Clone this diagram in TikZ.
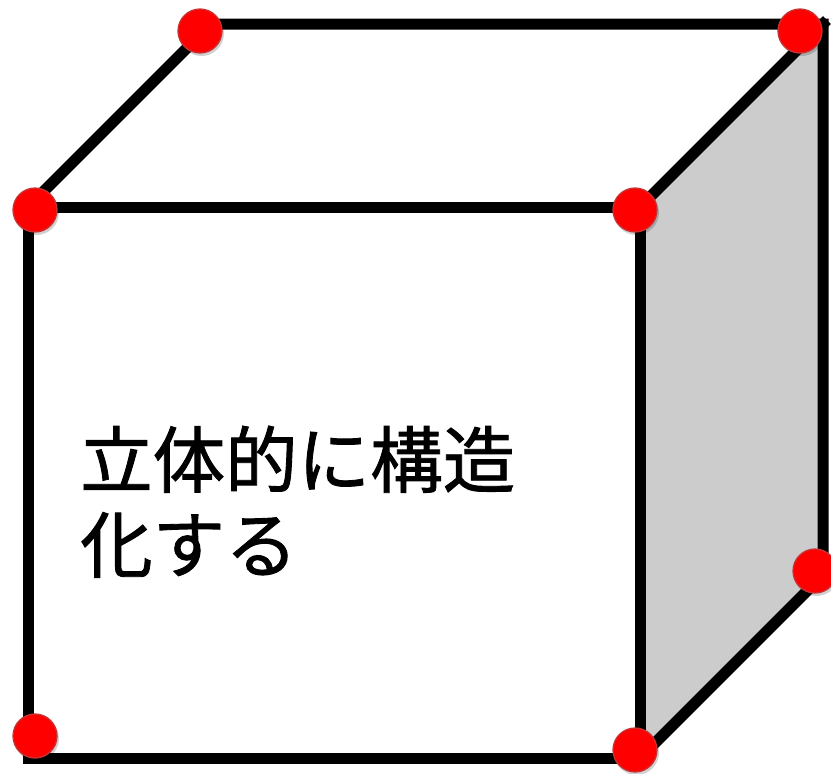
\documentclass[tikz,border=0pt]{standalone}
\usepackage{fontspec}
\newfontfamily\cjk[FakeBold=1.2]{Noto Sans CJK JP}
\definecolor{dotred}{RGB}{255,0,0}
\definecolor{dotrim}{RGB}{200,50,50}
\definecolor{sidegray}{RGB}{204,204,204}
\begin{document}
\begin{tikzpicture}[x=1pt,y=-1pt,
  edge/.style={line width=11pt, line join=miter, line cap=rect},
  vdot/.style={circle, fill=dotred, draw=dotrim, line width=1.3pt, minimum size=44pt, inner sep=0pt},
  vshadow/.style={circle, fill=black, opacity=0.18, minimum size=45pt, inner sep=0pt, xshift=1.5pt, yshift=-2.5pt},
  label/.style={font=\cjk\fontsize{72.5}{85}\selectfont, inner sep=0pt, anchor=base west}]
\useasboundingbox (0,0) rectangle (831,774);
% corners
\coordinate (FTL) at (28,207);
\coordinate (FTR) at (640,207);
\coordinate (FBL) at (28,758);
\coordinate (FBR) at (640,758);
\coordinate (BTL) at (211,24);
\coordinate (BTR) at (823,24);
\coordinate (BBR) at (823,575);
% right face
\fill[sidegray] (FTR) -- (BTR) -- (BBR) -- (FBR) -- cycle;
% edges
\draw[edge] (FTL) -- (FTR) -- (FBR) -- (FBL) -- cycle;
\draw[edge] (FTL) -- (BTL) -- (BTR) -- (BBR) -- (FBR);
\draw[edge] (FTR) -- (BTR);
% text
\node[label] (t1) at (80,487) {立体的に構造};
\node[label] (t2) at (80,572) {化する};
% dot shadows
\foreach \px/\py in {200/31, 800/31, 35/210, 635/210, 35/736, 635/750, 815/571}{
  \node[vshadow] at (\px,\py) {};
}
% dots
\node[vdot] (d1) at (200,31) {};
\node[vdot] (d2) at (800,31) {};
\node[vdot] (d3) at (35,210) {};
\node[vdot] (d4) at (635,210) {};
\node[vdot] (d5) at (35,736) {};
\node[vdot] (d6) at (635,750) {};
\node[vdot] (d7) at (815,571) {};
\end{tikzpicture}
\end{document}
